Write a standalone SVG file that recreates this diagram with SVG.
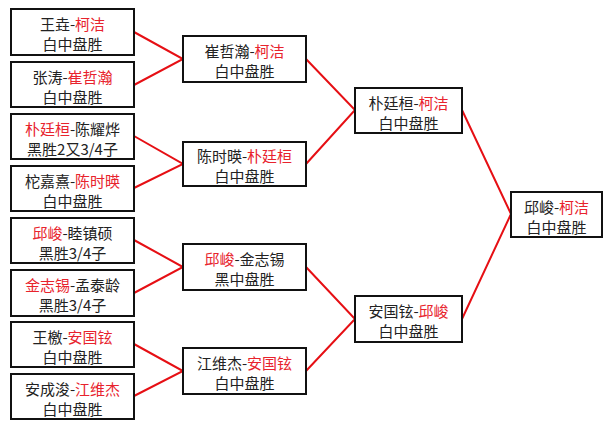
<svg xmlns="http://www.w3.org/2000/svg" width="612" height="429" viewBox="0 0 612 429">
<style>
.box{fill:#fff;stroke:#111;stroke-width:2}
text{font-family:"Noto Sans CJK SC","Noto Sans",sans-serif;font-size:15px;fill:#222;text-anchor:middle}
.r{fill:#e8232d}
.ln{stroke:#e60f14;stroke-width:2;fill:none}
</style>
<rect width="612" height="429" fill="#fff"/>
<g id="connectors">
<path class="ln" d="M134 32L183 59L134 85"/>
<path class="ln" d="M134 136L183 164L134 188"/>
<path class="ln" d="M134 240L183 267L134 293"/>
<path class="ln" d="M134 344L183 371L134 396"/>
<path class="ln" d="M306 59L355 110L306 164"/>
<path class="ln" d="M306 267L355 319L306 371"/>
<path class="ln" d="M462 110L511 214L462 319"/>
</g>
<g id="n1"><rect class="box" x="11" y="9" width="123" height="46"/><text x="72.5" y="30">王垚-<tspan class="r">柯洁</tspan></text><text x="72.5" y="50">白中盘胜</text></g>
<g id="n2"><rect class="box" x="11" y="62" width="123" height="45"/><text x="72.5" y="83">张涛-<tspan class="r">崔哲瀚</tspan></text><text x="72.5" y="103">白中盘胜</text></g>
<g id="n3"><rect class="box" x="11" y="114" width="123" height="45"/><text x="72.5" y="135"><tspan class="r">朴廷桓</tspan>-陈耀烨</text><text x="72.5" y="155">黑胜2又3/4子</text></g>
<g id="n4"><rect class="box" x="11" y="166" width="123" height="45"/><text x="72.5" y="187">柁嘉熹-<tspan class="r">陈时暎</tspan></text><text x="72.5" y="207">白中盘胜</text></g>
<g id="n5"><rect class="box" x="11" y="218" width="123" height="45"/><text x="72.5" y="239"><tspan class="r">邱峻</tspan>-睦镇硕</text><text x="72.5" y="259">黑胜3/4子</text></g>
<g id="n6"><rect class="box" x="11" y="270" width="123" height="46"/><text x="72.5" y="291"><tspan class="r">金志锡</tspan>-孟泰龄</text><text x="72.5" y="311">黑胜3/4子</text></g>
<g id="n7"><rect class="box" x="11" y="322" width="123" height="45"/><text x="72.5" y="343">王檄-<tspan class="r">安国铉</tspan></text><text x="72.5" y="363">白中盘胜</text></g>
<g id="n8"><rect class="box" x="11" y="374" width="123" height="45"/><text x="72.5" y="395">安成浚-<tspan class="r">江维杰</tspan></text><text x="72.5" y="415">白中盘胜</text></g>
<g id="m1"><rect class="box" x="183" y="36" width="123" height="46"/><text x="244.5" y="57">崔哲瀚-<tspan class="r">柯洁</tspan></text><text x="244.5" y="77">白中盘胜</text></g>
<g id="m2"><rect class="box" x="183" y="142" width="123" height="44"/><text x="244.5" y="162">陈时暎-<tspan class="r">朴廷桓</tspan></text><text x="244.5" y="182">白中盘胜</text></g>
<g id="m3"><rect class="box" x="183" y="244" width="123" height="46"/><text x="244.5" y="265"><tspan class="r">邱峻</tspan>-金志锡</text><text x="244.5" y="285">黑中盘胜</text></g>
<g id="m4"><rect class="box" x="183" y="348" width="123" height="46"/><text x="244.5" y="369">江维杰-<tspan class="r">安国铉</tspan></text><text x="244.5" y="389">白中盘胜</text></g>
<g id="s1"><rect class="box" x="355" y="88" width="107" height="45"/><text x="408.5" y="109">朴廷桓-<tspan class="r">柯洁</tspan></text><text x="408.5" y="129">白中盘胜</text></g>
<g id="s2"><rect class="box" x="355" y="296" width="107" height="46"/><text x="408.5" y="317">安国铉-<tspan class="r">邱峻</tspan></text><text x="408.5" y="337">白中盘胜</text></g>
<g id="f"><rect class="box" x="511" y="192" width="91" height="45"/><text x="556.5" y="213">邱峻-<tspan class="r">柯洁</tspan></text><text x="556.5" y="233">白中盘胜</text></g>
</svg>
